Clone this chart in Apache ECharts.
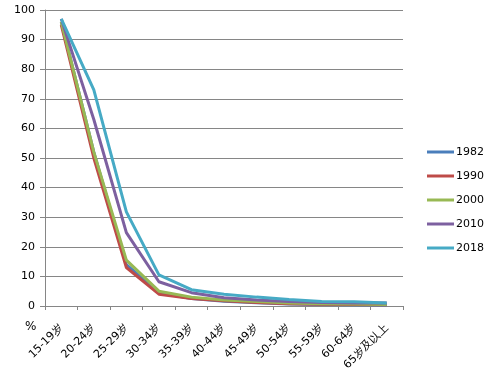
<!DOCTYPE html>
<html><head><meta charset="utf-8">
<script src="https://cdn.jsdelivr.net/npm/echarts@6/dist/echarts.min.js"></script>
<style>html,body{margin:0;padding:0;background:#fff}#c{width:491px;height:385px}</style>
</head><body><div id="c"></div>
<script>
const categories = ['15-19岁','20-24岁','25-29岁','30-34岁','35-39岁','40-44岁','45-49岁','50-54岁','55-59岁','60-64岁','65岁及以上'];
const s1982 = [96, 52, 14, 4.5, 2.5, 1.6, 1.1, 0.7, 0.5, 0.4, 0.3];
const s1990 = [95, 50, 13, 4, 2.5, 1.8, 1.2, 0.8, 0.6, 0.5, 0.4];
const s2000 = [96, 52, 15.5, 5, 3, 2, 1.5, 1, 0.8, 0.7, 0.5];
const s2010 = [97, 63, 24.8, 8.2, 4.5, 2.8, 2, 1.5, 1.2, 1, 1];
const s2018 = [97, 73, 31.8, 10.5, 5.5, 4, 3, 2.2, 1.5, 1.4, 1];
const seriesNames = ['1982','1990','2000','2010','2018'];
const yTicks = {min: 0, max: 100, interval: 10};

const colors = ['#4A7EBB','#BE4B48','#98B954','#7D60A0','#46AAC5'];
const font = 'DejaVu Sans';
const chart = echarts.init(document.getElementById('c'), null, {renderer:'canvas'});
const data = [s1982, s1990, s2000, s2010, s2018];
chart.setOption({
  animation: false,
  color: colors,
  grid: {left: 45, right: 88, top: 10, bottom: 79, containLabel: false},
  legend: {
    orient: 'vertical', left: 422, top: 140,
    itemWidth: 27, itemHeight: 3, itemGap: 10,
    icon: 'rect',
    textStyle: {fontFamily: font, fontSize: 11, color: '#000', lineHeight: 14, padding:[0,0,0,-3]},
    data: seriesNames
  },
  xAxis: {
    type: 'category', data: categories, boundaryGap: true,
    axisLine: {lineStyle: {color: '#868686', width: 1}},
    axisTick: {show: true, length: 4, lineStyle: {color: '#868686'}},
    axisLabel: {rotate: 45, margin: 20, fontFamily: font, fontSize: 11, color: '#000', interval: 0}
  },
  yAxis: {
    type: 'value', min: yTicks.min, max: yTicks.max, interval: yTicks.interval,
    axisLine: {show: true, lineStyle: {color: '#868686'}},
    axisTick: {show: true, length: 5, lineStyle: {color: '#868686'}},
    splitLine: {lineStyle: {color: '#868686', width: 1}},
    axisLabel: {margin: 10, fontFamily: font, fontSize: 11, color: '#000'}
  },
  graphic: [{type: 'text', left: 25, top: 321, style: {text: '%', fontFamily: font, fontSize: 12, fill: '#000'}}],
  series: seriesNames.map((n, i) => ({
    name: n, type: 'line', data: data[i], symbol: 'none',
    lineStyle: {width: 3, color: colors[i]}
  }))
});
</script></body></html>
